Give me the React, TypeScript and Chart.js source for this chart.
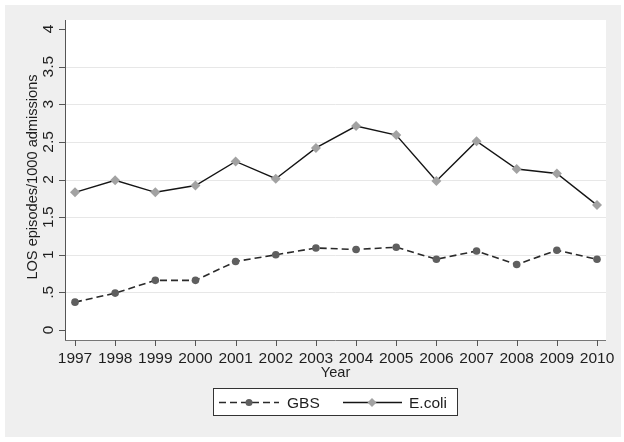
import React, { useEffect, useRef } from "react";
import { Chart, registerables } from "chart.js";

Chart.register(...registerables);

const years = [1997, 1998, 1999, 2000, 2001, 2002, 2003, 2004, 2005, 2006, 2007, 2008, 2009, 2010];
const gbs = [0.37, 0.49, 0.66, 0.66, 0.91, 1.0, 1.09, 1.07, 1.1, 0.94, 1.05, 0.87, 1.06, 0.94];
const ecoli = [1.83, 1.99, 1.83, 1.92, 2.24, 2.01, 2.42, 2.71, 2.59, 1.98, 2.51, 2.14, 2.08, 1.66];
const yTicks = [0, 0.5, 1, 1.5, 2, 2.5, 3, 3.5, 4];
const yTickLabels = ["0", ".5", "1", "1.5", "2", "2.5", "3", "3.5", "4"];
const gridValues = [0.5, 1, 1.5, 2, 2.5, 3, 3.5];
const seriesNames = ["GBS", "E.coli"];
const xTitle = "Year";
const yTitle = "LOS episodes/1000 admissions";

const FONT = '15.5px "Liberation Sans", Arial, sans-serif';
const TITLE_FONT = '14.6px "Liberation Sans", Arial, sans-serif';
const TEXT = "#1e1e1e";

const stataPlugin = {
  id: "stataLook",
  beforeDraw(chart: any) {
    const { ctx, chartArea, scales } = chart;
    const { left, right, top, bottom } = chartArea;
    const xs = scales.x;
    const ys = scales.y;
    ctx.save();
    ctx.fillStyle = "#ffffff";
    ctx.fillRect(0, 0, chart.width, chart.height);
    ctx.fillStyle = "#efefef";
    ctx.fillRect(5, 5, 616, 432);
    ctx.fillStyle = "#ffffff";
    ctx.fillRect(left, top, right - left, bottom - top);

    // grid
    ctx.strokeStyle = "#e7e7e7";
    ctx.lineWidth = 1;
    for (const v of gridValues) {
      const y = Math.round(ys.getPixelForValue(v)) + 0.5;
      ctx.beginPath();
      ctx.moveTo(left, y);
      ctx.lineTo(right, y);
      ctx.stroke();
    }

    // y axis
    ctx.strokeStyle = "#555555";
    ctx.beginPath();
    ctx.moveTo(left + 0.5, top);
    ctx.lineTo(left + 0.5, bottom + 1);
    ctx.stroke();
    ctx.font = FONT;
    ctx.fillStyle = TEXT;
    yTicks.forEach((v, i) => {
      const y = Math.round(ys.getPixelForValue(v)) + 0.5;
      ctx.beginPath();
      ctx.moveTo(left - 6, y);
      ctx.lineTo(left, y);
      ctx.stroke();
      ctx.save();
      ctx.translate(53, ys.getPixelForValue(v));
      ctx.rotate(-Math.PI / 2);
      ctx.textAlign = "center";
      ctx.textBaseline = "alphabetic";
      ctx.fillText(yTickLabels[i], 0, 0);
      ctx.restore();
    });
    ctx.save();
    ctx.font = TITLE_FONT;
    ctx.translate(37, (top + bottom) / 2 - 3);
    ctx.rotate(-Math.PI / 2);
    ctx.textAlign = "center";
    ctx.textBaseline = "alphabetic";
    ctx.fillText(yTitle, 0, 0);
    ctx.restore();

    // x axis
    ctx.strokeStyle = "#777777";
    ctx.beginPath();
    ctx.moveTo(left, bottom + 0.5);
    ctx.lineTo(right, bottom + 0.5);
    ctx.stroke();
    ctx.strokeStyle = "#555555";
    ctx.textAlign = "center";
    ctx.textBaseline = "alphabetic";
    years.forEach((yr) => {
      const x = Math.round(xs.getPixelForValue(yr)) + 0.5;
      ctx.beginPath();
      ctx.moveTo(x, bottom);
      ctx.lineTo(x, bottom + 6);
      ctx.stroke();
      ctx.fillText(String(yr), xs.getPixelForValue(yr), 363);
    });
    ctx.font = TITLE_FONT;
    ctx.fillText(xTitle, (left + right) / 2, 377);
    ctx.restore();
  },
  afterDraw(chart: any) {
    const { ctx } = chart;
    const ds = chart.data.datasets;
    ctx.save();
    ctx.fillStyle = "#ffffff";
    ctx.fillRect(213.5, 388.5, 244, 27);
    ctx.strokeStyle = "#333333";
    ctx.lineWidth = 1;
    ctx.strokeRect(213.5, 388.5, 244, 27);
    const ly = 402.5;
    const items = [
      { x0: 219, x1: 279, mx: 249, tx: 287 },
      { x0: 343, x1: 402, mx: 372, tx: 409 },
    ];
    items.forEach((it, i) => {
      const d = ds[i];
      ctx.strokeStyle = d.borderColor;
      ctx.lineWidth = d.borderWidth;
      ctx.setLineDash(d.borderDash || []);
      ctx.beginPath();
      ctx.moveTo(it.x0, ly);
      ctx.lineTo(it.x1, ly);
      ctx.stroke();
      ctx.setLineDash([]);
      ctx.fillStyle = d.pointBackgroundColor;
      ctx.beginPath();
      if (d.pointStyle === "circle") {
        ctx.arc(it.mx, ly, 3.5, 0, Math.PI * 2);
      } else {
        const r = 4.5;
        ctx.moveTo(it.mx - r, ly);
        ctx.lineTo(it.mx, ly - r);
        ctx.lineTo(it.mx + r, ly);
        ctx.lineTo(it.mx, ly + r);
        ctx.closePath();
      }
      ctx.fill();
      ctx.font = FONT;
      ctx.fillStyle = TEXT;
      ctx.textAlign = "left";
      ctx.textBaseline = "alphabetic";
      ctx.fillText(seriesNames[i], it.tx, 408);
    });
    ctx.restore();
  },
};

export default function App() {
  const ref = useRef<HTMLCanvasElement>(null);
  useEffect(() => {
    document.body.style.margin = "0";
    const canvas = ref.current;
    if (!canvas) return;
    const chart = new Chart(canvas, {
      type: "line",
      data: {
        datasets: [
          {
            label: seriesNames[0],
            data: years.map((yr, i) => ({ x: yr, y: gbs[i] })),
            borderColor: "#2a2a2a",
            borderWidth: 1.6,
            borderDash: [7, 4],
            pointStyle: "circle",
            pointRadius: 3.8,
            pointBackgroundColor: "#5f5f5f",
            pointBorderColor: "#5f5f5f",
            pointBorderWidth: 0,
            tension: 0,
          },
          {
            label: seriesNames[1],
            data: years.map((yr, i) => ({ x: yr, y: ecoli[i] })),
            borderColor: "#151515",
            borderWidth: 1.4,
            pointStyle: "rectRot",
            pointRadius: 5,
            pointBackgroundColor: "#a2a2a2",
            pointBorderColor: "#a2a2a2",
            pointBorderWidth: 0,
            tension: 0,
          },
        ],
      },
      options: {
        animation: false,
        responsive: false,
        maintainAspectRatio: false,
        layout: { padding: { left: 65, top: 20, right: 18, bottom: 102 } },
        plugins: { legend: { display: false }, tooltip: { enabled: false } },
        scales: {
          x: { type: "linear", display: false, min: 1996.751, max: 2010.224 },
          y: { type: "linear", display: false, min: -0.133, max: 4.12 },
        },
      },
      plugins: [stataPlugin],
    });
    return () => chart.destroy();
  }, []);
  return (
    <div style={{ position: "fixed", left: 0, top: 0, width: 624, height: 442 }}>
      <canvas ref={ref} width={624} height={442} style={{ display: "block" }} />
    </div>
  );
}
